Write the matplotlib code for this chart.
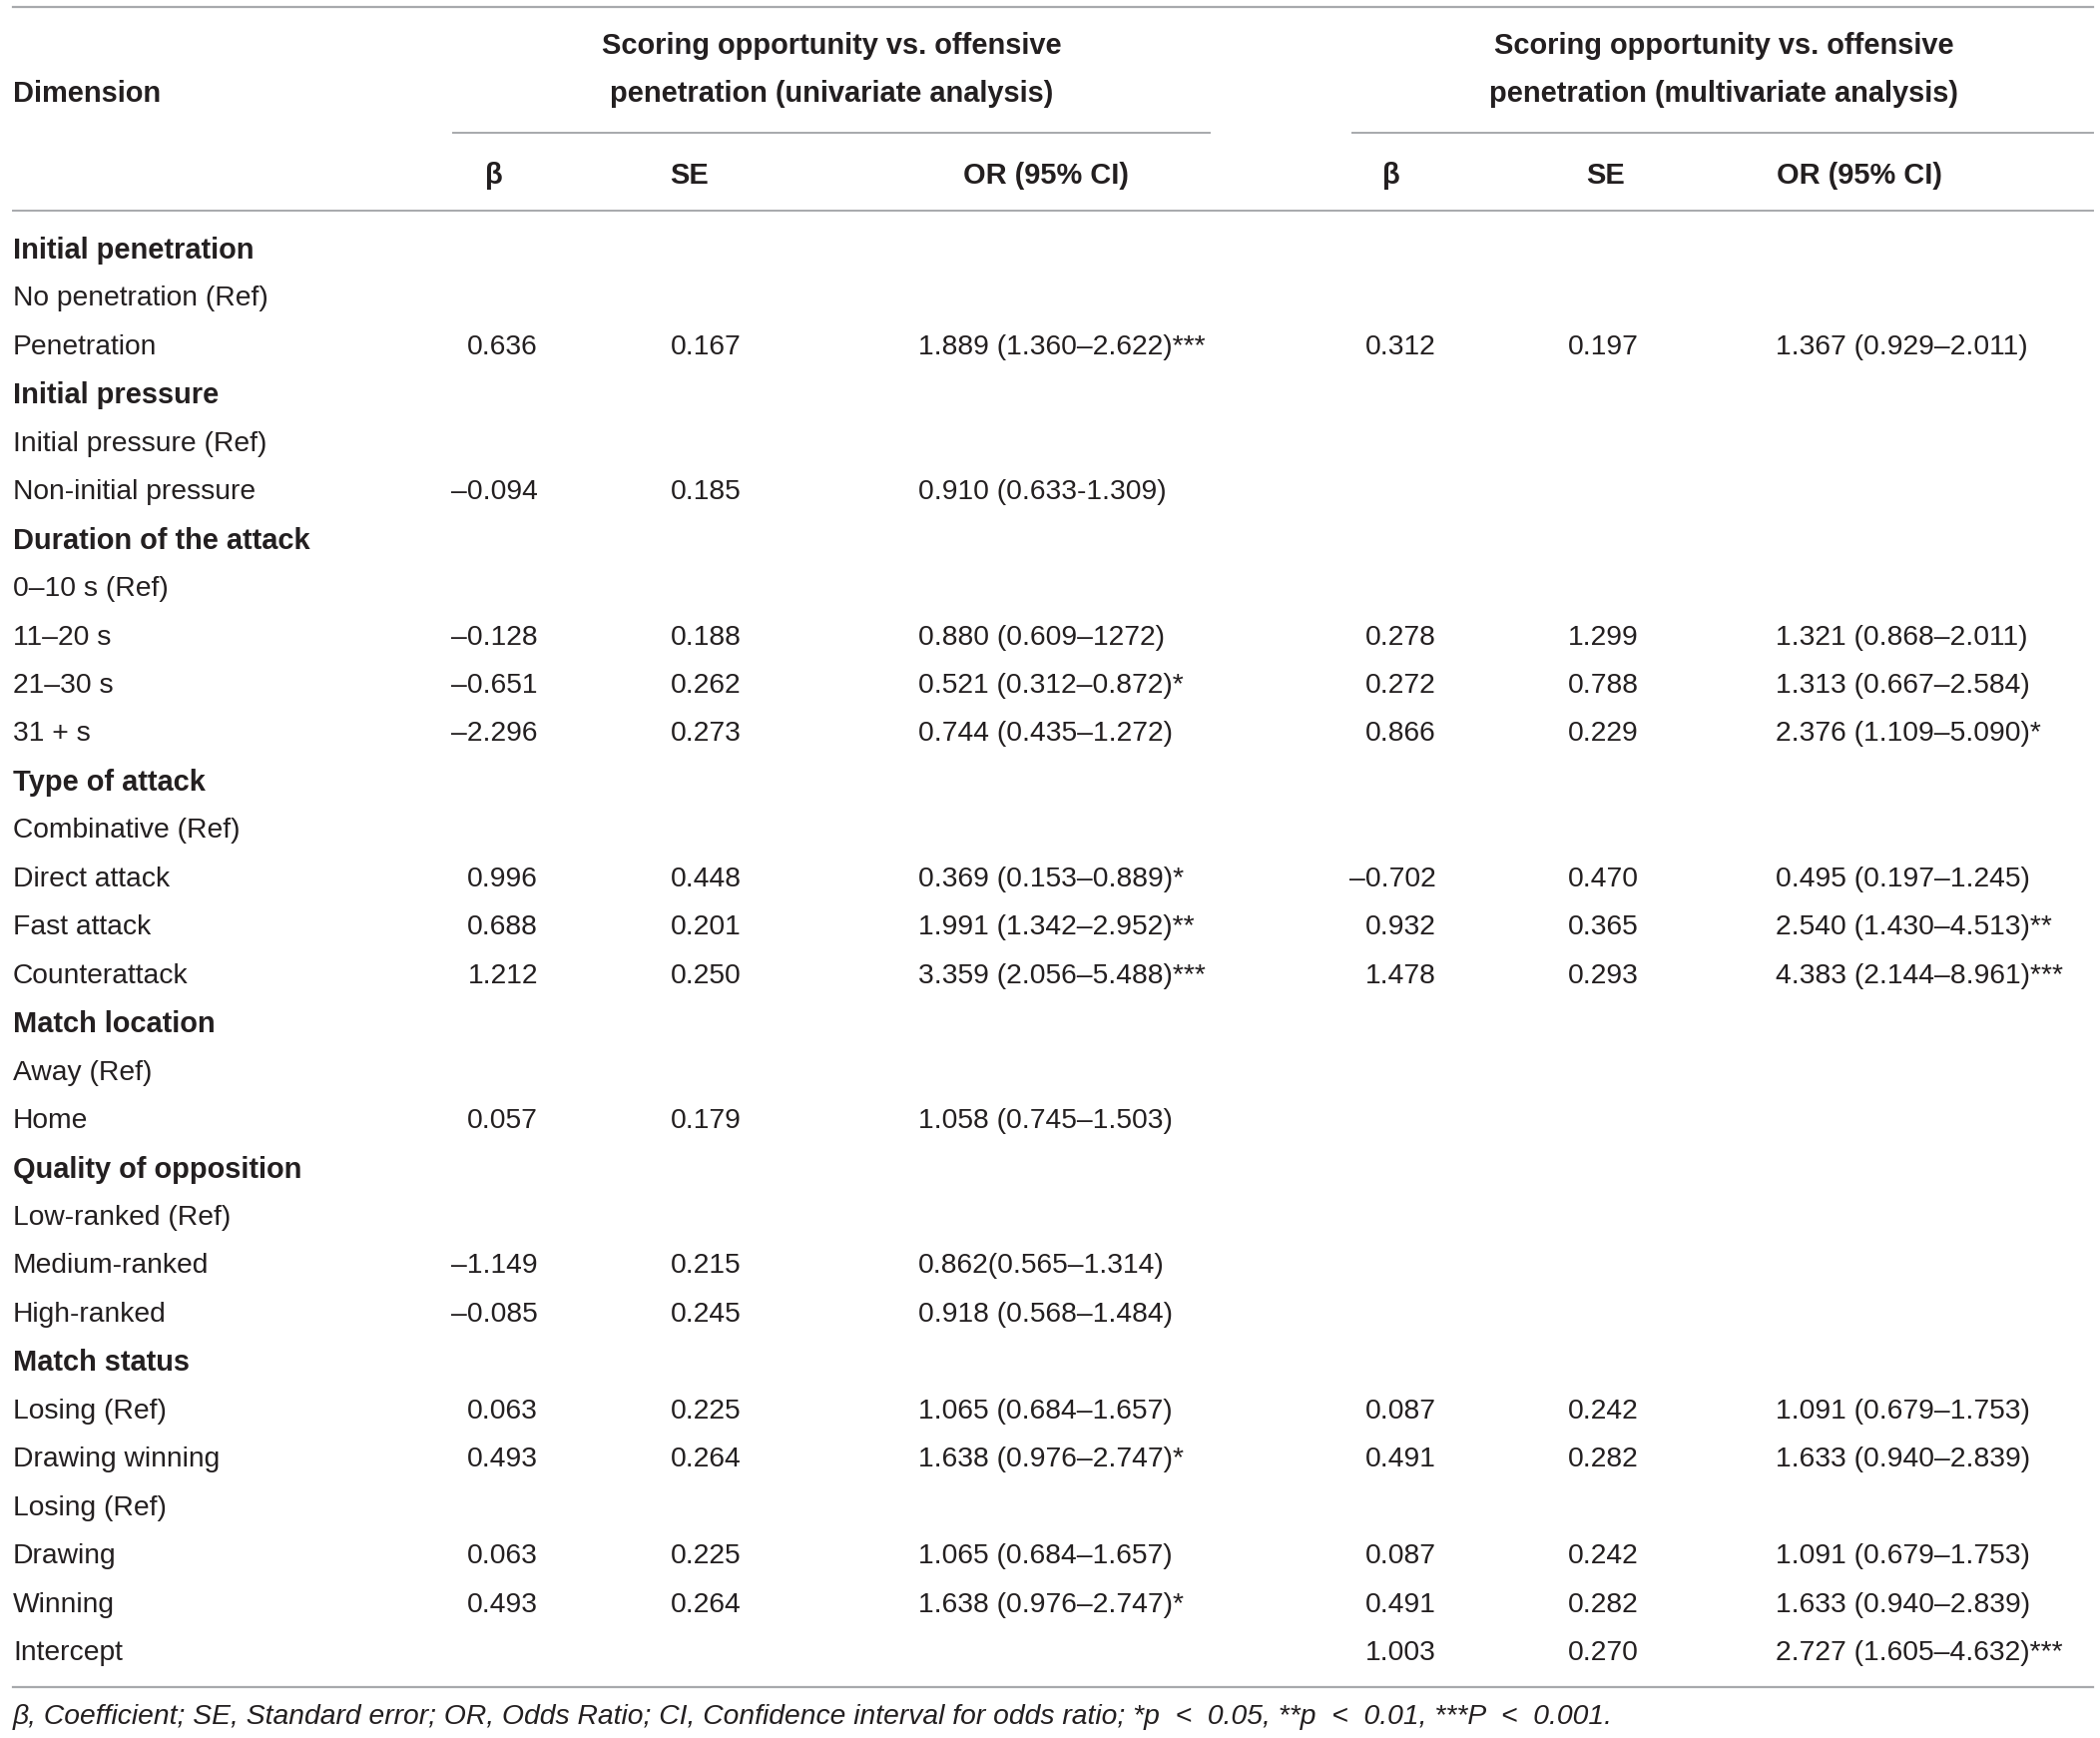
import matplotlib.pyplot as plt

# table contents (row labels, then the two analyses)
labels = ['Initial penetration', 'No penetration (Ref)', 'Penetration',
          'Initial pressure', 'Initial pressure (Ref)', 'Non-initial pressure',
          'Duration of the attack', '0–10 s (Ref)', '11–20 s', '21–30 s', '31 + s',
          'Type of attack', 'Combinative (Ref)', 'Direct attack', 'Fast attack', 'Counterattack',
          'Match location', 'Away (Ref)', 'Home',
          'Quality of opposition', 'Low-ranked (Ref)', 'Medium-ranked', 'High-ranked',
          'Match status', 'Losing (Ref)', 'Drawing winning', 'Losing (Ref)', 'Drawing', 'Winning',
          'Intercept']
section = [1, 0, 0, 1, 0, 0, 1, 0, 0, 0, 0, 1, 0, 0, 0, 0, 1, 0, 0, 1, 0, 0, 0, 1, 0, 0, 0, 0, 0, 0]

beta_uni = ['', '', '0.636', '', '', '–0.094', '', '', '–0.128', '–0.651', '–2.296',
            '', '', '0.996', '0.688', '1.212', '', '', '0.057', '', '', '–1.149', '–0.085',
            '', '0.063', '0.493', '', '0.063', '0.493', '']
se_uni = ['', '', '0.167', '', '', '0.185', '', '', '0.188', '0.262', '0.273',
          '', '', '0.448', '0.201', '0.250', '', '', '0.179', '', '', '0.215', '0.245',
          '', '0.225', '0.264', '', '0.225', '0.264', '']
or_uni = ['', '', '1.889 (1.360–2.622)***', '', '', '0.910 (0.633-1.309)', '', '',
          '0.880 (0.609–1272)', '0.521 (0.312–0.872)*', '0.744 (0.435–1.272)',
          '', '', '0.369 (0.153–0.889)*', '1.991 (1.342–2.952)**', '3.359 (2.056–5.488)***',
          '', '', '1.058 (0.745–1.503)', '', '', '0.862(0.565–1.314)', '0.918 (0.568–1.484)',
          '', '1.065 (0.684–1.657)', '1.638 (0.976–2.747)*', '', '1.065 (0.684–1.657)',
          '1.638 (0.976–2.747)*', '']

beta_multi = ['', '', '0.312', '', '', '', '', '', '0.278', '0.272', '0.866',
              '', '', '–0.702', '0.932', '1.478', '', '', '', '', '', '', '',
              '', '0.087', '0.491', '', '0.087', '0.491', '1.003']
se_multi = ['', '', '0.197', '', '', '', '', '', '1.299', '0.788', '0.229',
            '', '', '0.470', '0.365', '0.293', '', '', '', '', '', '', '',
            '', '0.242', '0.282', '', '0.242', '0.282', '0.270']
or_multi = ['', '', '1.367 (0.929–2.011)', '', '', '', '', '',
            '1.321 (0.868–2.011)', '1.313 (0.667–2.584)', '2.376 (1.109–5.090)*',
            '', '', '0.495 (0.197–1.245)', '2.540 (1.430–4.513)**', '4.383 (2.144–8.961)***',
            '', '', '', '', '', '', '',
            '', '1.091 (0.679–1.753)', '1.633 (0.940–2.839)', '', '1.091 (0.679–1.753)',
            '1.633 (0.940–2.839)', '2.727 (1.605–4.632)***']

group_line1 = 'Scoring opportunity vs. offensive'
group_line2 = ['penetration (univariate analysis)', 'penetration (multivariate analysis)']
col_heads = ['β', 'SE', 'OR (95% CI)']
footnote = ('β, Coefficient; SE, Standard error; OR, Odds Ratio; CI, Confidence interval '
            'for odds ratio; *p  <  0.05, **p  <  0.01, ***P  <  0.001.')

plt.rcParams['font.family'] = ['Liberation Sans', 'DejaVu Sans']
txt = '#231f20'
line = '#a7a9ac'
fs = 20.3
fb = 20.9

fig = plt.figure(figsize=(21.04, 17.41), dpi=100)
ax = fig.add_axes([0, 0, 1, 1])
ax.set_xlim(0, 2104)
ax.set_ylim(1741, 0)
ax.axis('off')

# rules
ax.plot([13, 2097], [7, 7], color=line, lw=1.6)
ax.plot([454, 1212], [133, 133], color=line, lw=1.4)
ax.plot([1355, 2097], [133, 133], color=line, lw=1.4)
ax.plot([13, 2097], [211, 211], color=line, lw=1.4)
ax.plot([13, 2097], [1690, 1690], color=line, lw=1.6)

# header
ax.text(13, 94, 'Dimension', fontsize=fb, weight='bold', color=txt, va='center')
for cx, t2 in zip([833, 1727], group_line2):
    ax.text(cx, 46, group_line1, fontsize=fb, weight='bold', color=txt, va='center', ha='center')
    ax.text(cx, 94, t2, fontsize=fb, weight='bold', color=txt, va='center', ha='center')
for cxs in ([495, 691, 1048], [1394, 1609, 1863]):
    for cx, h in zip(cxs, col_heads):
        ax.text(cx, 176, h, fontsize=fb, weight='bold', color=txt, va='center', ha='center')

# body
y0, dy = 251, 48.45
for i, lab in enumerate(labels):
    y = y0 + i * dy
    ax.text(13, y, lab, fontsize=fb if section[i] else fs, color=txt, va='center',
            weight='bold' if section[i] else 'normal')
    ax.text(539, y, beta_uni[i], fontsize=fs, color=txt, va='center', ha='right')
    ax.text(672, y, se_uni[i], fontsize=fs, color=txt, va='center')
    ax.text(920, y, or_uni[i], fontsize=fs, color=txt, va='center')
    ax.text(1439, y, beta_multi[i], fontsize=fs, color=txt, va='center', ha='right')
    ax.text(1571, y, se_multi[i], fontsize=fs, color=txt, va='center')
    ax.text(1779, y, or_multi[i], fontsize=fs, color=txt, va='center')

ax.text(13, 1720, footnote, fontsize=20.3, style='italic', color=txt, va='center')

fig.savefig('out.png', dpi=100, facecolor='white')
